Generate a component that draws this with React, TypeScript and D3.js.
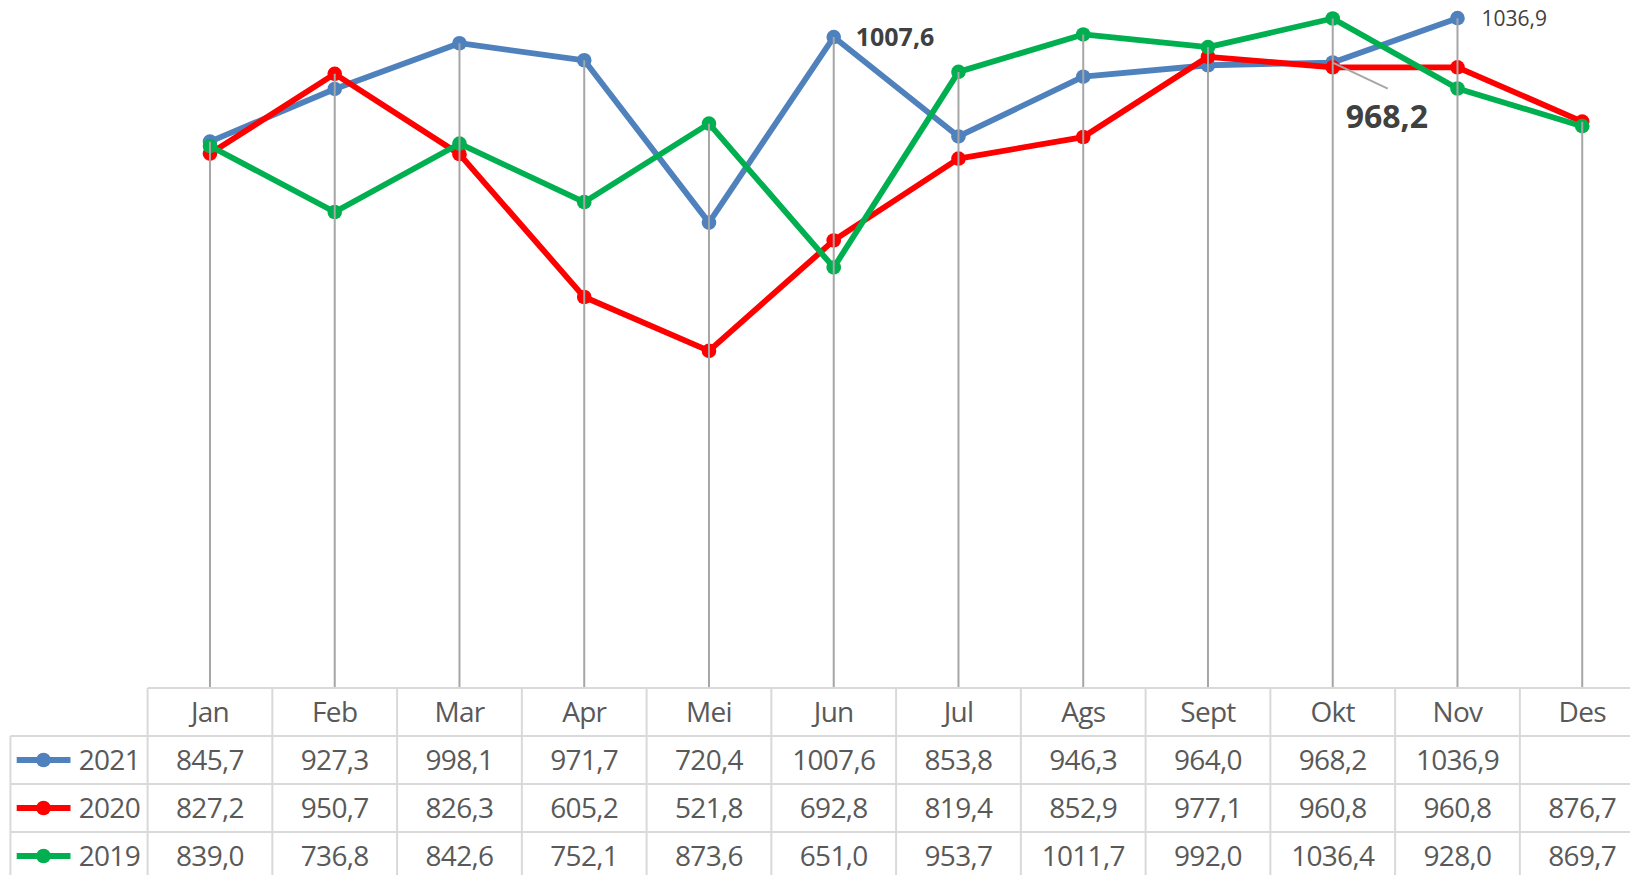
import React from "react";
import * as d3 from "d3";

const months = ["Jan", "Feb", "Mar", "Apr", "Mei", "Jun", "Jul", "Ags", "Sept", "Okt", "Nov", "Des"];
const seriesNames = ["2021", "2020", "2019"];
const values2021: (number | null)[] = [845.7, 927.3, 998.1, 971.7, 720.4, 1007.6, 853.8, 946.3, 964.0, 968.2, 1036.9, null];
const values2020: (number | null)[] = [827.2, 950.7, 826.3, 605.2, 521.8, 692.8, 819.4, 852.9, 977.1, 960.8, 960.8, 876.7];
const values2019: (number | null)[] = [839.0, 736.8, 842.6, 752.1, 873.6, 651.0, 953.7, 1011.7, 992.0, 1036.4, 928.0, 869.7];
const seriesColors = ["#4f81bd", "#ff0000", "#00b050"];

const W = 1630;
const H = 875;
const FONT = "'Open Sans', 'Noto Sans', sans-serif";

const fmt = (v: number) => d3.format(".1f")(v).replace(".", ",");

export default function App() {
  const series = [values2021, values2020, values2019].map((vals, i) => ({
    name: seriesNames[i],
    color: seriesColors[i],
    values: vals,
  }));

  const tableLeft = 147.6;
  const colW = 124.75;
  const x = d3
    .scaleBand<string>()
    .domain(months)
    .range([tableLeft, tableLeft + colW * months.length])
    .paddingInner(0)
    .paddingOuter(0);
  const cx = (m: string) => (x(m) as number) + x.bandwidth() / 2;

  const axisY = 688;
  const y = d3.scaleLinear().domain([0, 1065]).range([axisY, 0]);

  const line = d3
    .line<{ m: string; v: number | null }>()
    .defined((d) => d.v != null)
    .x((d) => cx(d.m))
    .y((d) => y(d.v as number));

  const rowH = 48;
  const legendLeft = 10.4;
  const textColor = "#595959";
  const gridColor = "#d9d9d9";
  const lineW = 5.8;
  const markerR = 7.3;
  const tableFont = 28;
  const tableSpacing = -0.7;

  const maxPerMonth = months.map((m, i) => {
    const vs = series.map((s) => s.values[i]).filter((v) => v != null) as number[];
    return { m, v: d3.max(vs) as number };
  });

  const pt = (si: number, m: string) => {
    const i = months.indexOf(m);
    return { px: cx(m), py: y(series[si].values[i] as number), v: series[si].values[i] as number };
  };
  const junLbl = pt(0, "Jun");
  const oktLbl = pt(0, "Okt");
  const novLbl = pt(0, "Nov");

  return (
    <svg
      width={W}
      height={H}
      style={{ position: "absolute", left: 0, top: 0, background: "#fff" }}
      fontFamily={FONT}
    >
      <rect x={0} y={0} width={W} height={H} fill="#fff" />

      {series.map((s) => (
        <g key={s.name}>
          <path
            d={line(months.map((m, i) => ({ m, v: s.values[i] }))) as string}
            fill="none"
            stroke={s.color}
            strokeWidth={lineW}
            strokeLinejoin="round"
          />
          {months.map((m, i) =>
            s.values[i] == null ? null : (
              <circle key={m} cx={cx(m)} cy={y(s.values[i] as number)} r={markerR} fill={s.color} />
            )
          )}
        </g>
      ))}

      {maxPerMonth.map((d) => (
        <line key={d.m} x1={cx(d.m)} x2={cx(d.m)} y1={y(d.v)} y2={axisY} stroke="#a6a6a6" strokeWidth={2} />
      ))}

      <text x={junLbl.px + 22} y={junLbl.py + 9} fontSize={25} fontWeight="bold" fill="#404040">
        {fmt(junLbl.v)}
      </text>
      <text x={novLbl.px + 24} y={novLbl.py + 8} fontSize={21} fill="#404040">
        {fmt(novLbl.v)}
      </text>
      <line x1={oktLbl.px} y1={oktLbl.py} x2={oktLbl.px + 55} y2={oktLbl.py + 26} stroke="#a6a6a6" strokeWidth={2} />
      <text x={oktLbl.px + 13} y={oktLbl.py + 65} fontSize={32} fontWeight="bold" fill="#404040">
        {fmt(oktLbl.v)}
      </text>

      <g>
        <line x1={tableLeft} x2={W} y1={axisY} y2={axisY} stroke={gridColor} strokeWidth={2} />
        {[1, 2, 3, 4].map((r) => (
          <line key={r} x1={legendLeft} x2={W} y1={axisY + r * rowH} y2={axisY + r * rowH} stroke={gridColor} strokeWidth={2} />
        ))}
        <line x1={legendLeft} x2={legendLeft} y1={axisY + rowH} y2={H + 10} stroke={gridColor} strokeWidth={2} />
        {months.map((m) => (
          <line key={m} x1={x(m) as number} x2={x(m) as number} y1={axisY} y2={H + 10} stroke={gridColor} strokeWidth={2} />
        ))}
        <line
          x1={tableLeft + colW * months.length}
          x2={tableLeft + colW * months.length}
          y1={axisY}
          y2={H + 10}
          stroke={gridColor}
          strokeWidth={2}
        />
        {months.map((m) => (
          <text key={m} x={cx(m)} y={axisY + rowH / 2 - 1} textAnchor="middle" dominantBaseline="central" fontSize={tableFont} letterSpacing={tableSpacing} fill={textColor}>
            {m}
          </text>
        ))}
        {series.map((s, si) => {
          const rowMid = axisY + rowH * (si + 1) + rowH / 2;
          return (
            <g key={s.name}>
              <line x1={16.7} x2={70.5} y1={rowMid} y2={rowMid} stroke={s.color} strokeWidth={lineW} />
              <circle cx={43.5} cy={rowMid} r={markerR} fill={s.color} />
              <text x={140} y={rowMid - 1} textAnchor="end" dominantBaseline="central" fontSize={tableFont} letterSpacing={tableSpacing} fill={textColor}>
                {s.name}
              </text>
              {months.map((m, i) =>
                s.values[i] == null ? null : (
                  <text key={m} x={cx(m)} y={rowMid - 1} textAnchor="middle" dominantBaseline="central" fontSize={tableFont} letterSpacing={tableSpacing} fill={textColor}>
                    {fmt(s.values[i] as number)}
                  </text>
                )
              )}
            </g>
          );
        })}
      </g>
    </svg>
  );
}
